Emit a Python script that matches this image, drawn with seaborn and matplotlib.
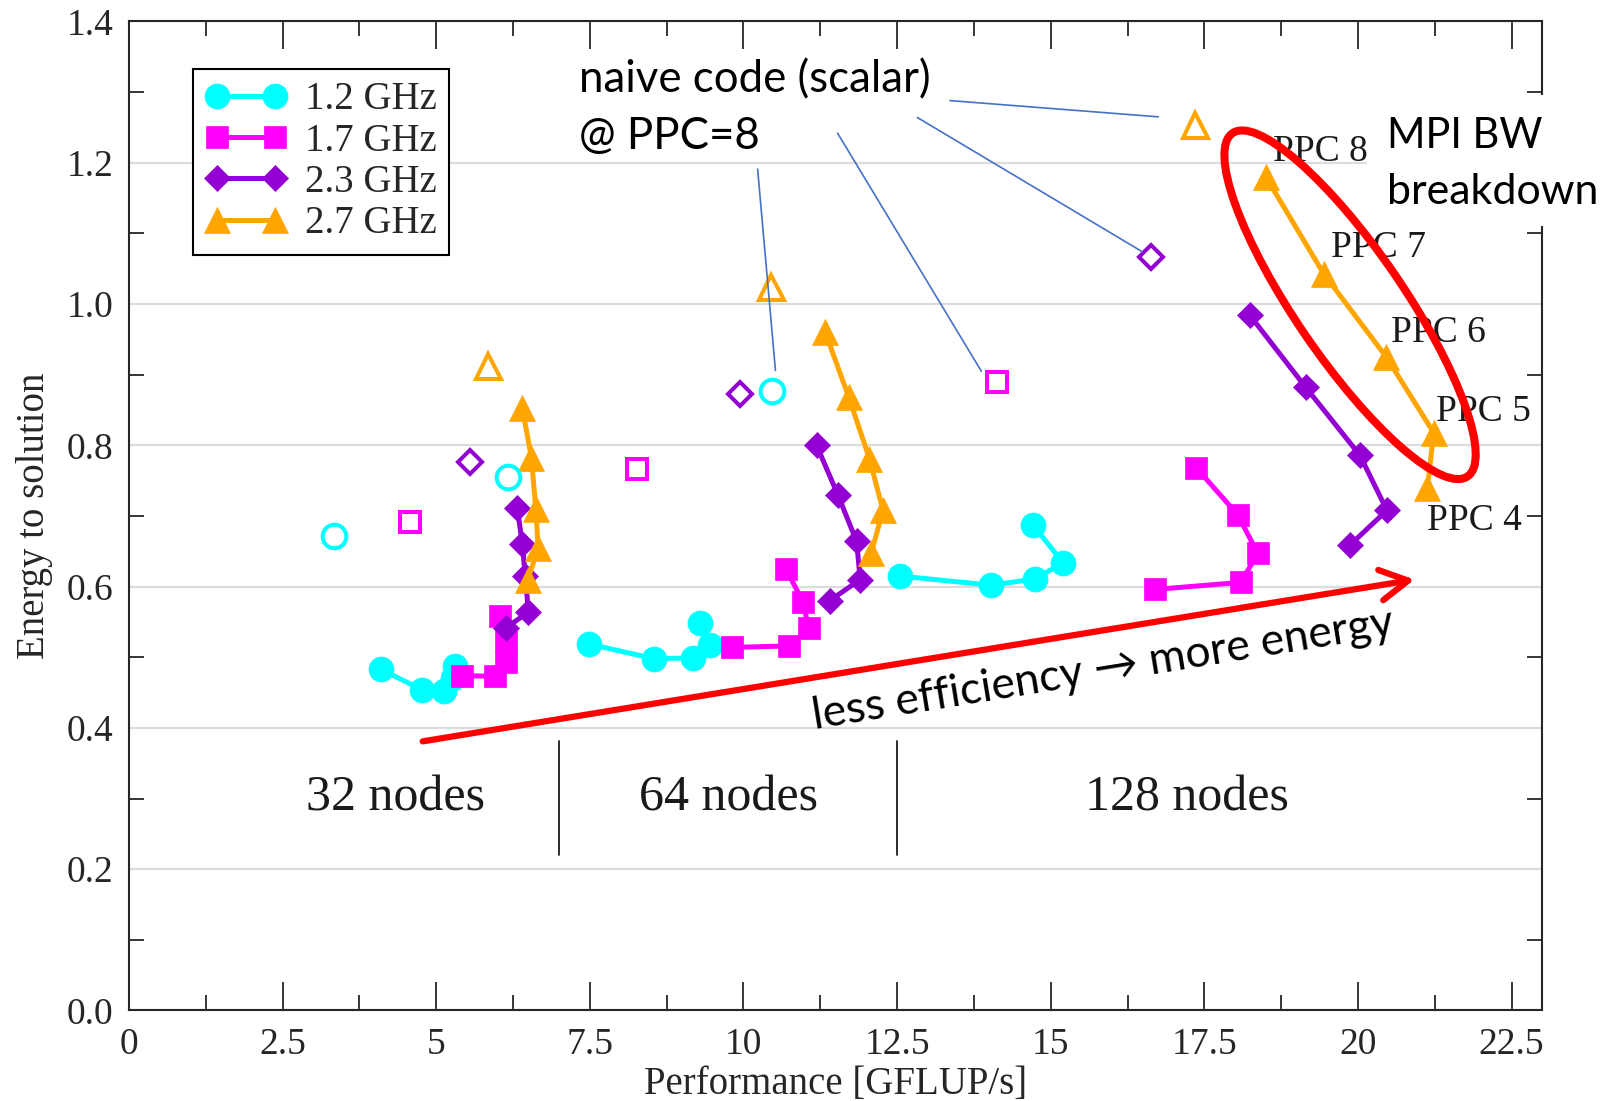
import matplotlib
matplotlib.use("Agg")
import matplotlib.pyplot as plt
import matplotlib.transforms as mtransforms
from matplotlib.patches import Ellipse, Rectangle
from matplotlib.ticker import MultipleLocator, FixedLocator, FormatStrFormatter
import pandas as pd
import seaborn as sns

# ---------------- data ----------------
freq_labels = ["1.2 GHz", "1.7 GHz", "2.3 GHz", "2.7 GHz"]
node_labels = ["32 nodes", "64 nodes", "128 nodes"]

# 1.2 GHz (cyan, circles)
perf_12_32 = [4.10, 4.77, 5.12, 5.28, 5.31]
en_12_32 = [0.483, 0.454, 0.452, 0.470, 0.487]
perf_12_64 = [7.48, 8.54, 9.18, 9.45, 9.30]
en_12_64 = [0.519, 0.498, 0.499, 0.517, 0.549]
perf_12_128 = [12.54, 14.03, 14.75, 15.20, 14.71]
en_12_128 = [0.615, 0.602, 0.611, 0.634, 0.687]

# 1.7 GHz (magenta, squares)
perf_17_32 = [5.42, 5.96, 6.13, 6.13, 6.04]
en_17_32 = [0.474, 0.473, 0.494, 0.523, 0.558]
perf_17_64 = [9.81, 10.74, 11.06, 10.97, 10.69]
en_17_64 = [0.514, 0.516, 0.541, 0.578, 0.625]
perf_17_128 = [16.70, 18.09, 18.37, 18.04, 17.37]
en_17_128 = [0.596, 0.606, 0.647, 0.702, 0.768]

# 2.3 GHz (purple, diamonds)
perf_23_32 = [6.14, 6.50, 6.45, 6.40, 6.32]
en_23_32 = [0.542, 0.564, 0.615, 0.660, 0.712]
perf_23_64 = [11.40, 11.90, 11.84, 11.54, 11.19]
en_23_64 = [0.580, 0.610, 0.664, 0.729, 0.800]
perf_23_128 = [18.24, 19.15, 20.03, 20.47, 19.87]
en_23_128 = [0.984, 0.882, 0.786, 0.708, 0.659]

# 2.7 GHz (orange, triangles)
perf_27_32 = [6.40, 6.55, 6.62, 6.66, 6.49]
en_27_32 = [0.853, 0.782, 0.710, 0.654, 0.610]
perf_27_64 = [11.33, 11.71, 12.05, 12.27, 12.08]
en_27_64 = [0.960, 0.869, 0.781, 0.708, 0.648]
perf_27_128 = [18.50, 19.44, 20.46, 21.23, 21.13]
en_27_128 = [1.180, 1.043, 0.925, 0.818, 0.740]

# naive code (scalar) @ PPC=8, open markers (32, 64, 128 nodes)
naive_perf_12 = [3.34, 6.16, 10.47]
naive_en_12 = [0.671, 0.755, 0.877]
naive_perf_17 = [4.58, 8.26, 14.12]
naive_en_17 = [0.692, 0.766, 0.889]
naive_perf_23 = [5.55, 9.95, 16.63]
naive_en_23 = [0.777, 0.872, 1.067]
naive_perf_27 = [5.85, 10.44, 17.34]
naive_en_27 = [0.913, 1.024, 1.253]

ppc_labels = ["PPC 8", "PPC 7", "PPC 6", "PPC 5", "PPC 4"]
ppc_label_x = [18.61, 19.56, 20.54, 21.27, 21.13]
ppc_label_y = [1.215, 1.080, 0.960, 0.848, 0.693]

xtick_values = [0, 2.5, 5, 7.5, 10, 12.5, 15, 17.5, 20, 22.5]
xtick_labels = ["0", "2.5", "5", "7.5", "10", "12.5", "15", "17.5", "20", "22.5"]

# annotation anchors
node_label_x = [4.34, 9.75, 17.22]
node_label_y = 0.300
separator_x = [7.0, 12.5]
separator_y = (0.22, 0.381)
leader_from = [(13.36, 1.288), (12.83, 1.264), (11.53, 1.242), (10.23, 1.191)]
leader_to = [(16.75, 1.265), (16.49, 1.074), (13.87, 0.905), (10.52, 0.906)]
arrow_start = (4.78, 0.381)
arrow_end = (20.92, 0.610)
ellipse_center = (19.87, 0.999)

# ---------------- style ----------------
sns.set_style("ticks")
plt.rcParams["font.family"] = ["Liberation Serif", "DejaVu Serif"]
SANS = ["Lato", "DejaVu Sans"]
INK = "#262626"

colors = ["#00FFFF", "#FF00FF", "#9400D3", "#FFA500"]
markers = ["o", "s", "D", "^"]
msizes = [18, 16.5, 13, 19]
open_sizes = [17, 15, 12, 18]

groups = [
    [(perf_12_32, en_12_32), (perf_12_64, en_12_64), (perf_12_128, en_12_128)],
    [(perf_17_32, en_17_32), (perf_17_64, en_17_64), (perf_17_128, en_17_128)],
    [(perf_23_32, en_23_32), (perf_23_64, en_23_64), (perf_23_128, en_23_128)],
    [(perf_27_32, en_27_32), (perf_27_64, en_27_64), (perf_27_128, en_27_128)],
]
naive = [
    (naive_perf_12, naive_en_12),
    (naive_perf_17, naive_en_17),
    (naive_perf_23, naive_en_23),
    (naive_perf_27, naive_en_27),
]

fig = plt.figure(figsize=(16.2, 11.01), dpi=100)
ax = fig.add_axes([0.0796, 0.0822, 0.8725, 0.8983])

handles = []
for label, color, marker, ms, grp in zip(freq_labels, colors, markers, msizes, groups):
    for i, (px, py) in enumerate(grp):
        df = pd.DataFrame({"perf": px, "energy": py})
        sns.lineplot(data=df, x="perf", y="energy", sort=False, estimator=None,
                     color=color, marker=marker, markersize=ms,
                     markeredgecolor=color, markeredgewidth=0.5,
                     linewidth=3.6, ax=ax, legend=False, zorder=3)
        if i == 0:
            handles.append(ax.lines[-1])

for color, marker, ms, (px, py) in zip(colors, markers, open_sizes, naive):
    df = pd.DataFrame({"perf": px, "energy": py})
    sns.lineplot(data=df, x="perf", y="energy", sort=False, estimator=None,
                 color=color, marker=marker, markersize=ms, linestyle="none",
                 markerfacecolor="none", markeredgecolor=color,
                 markeredgewidth=2.9, ax=ax, legend=False, zorder=3)

ax.set_xlim(0, 23)
ax.set_ylim(0, 1.4)

# ticks
ax.xaxis.set_major_locator(FixedLocator(xtick_values))
ax.set_xticklabels(xtick_labels)
ax.xaxis.set_minor_locator(MultipleLocator(1.25))
ax.yaxis.set_major_locator(MultipleLocator(0.2))
ax.yaxis.set_major_formatter(FormatStrFormatter("%.1f"))
ax.yaxis.set_minor_locator(MultipleLocator(0.1))
ax.tick_params(axis="x", which="major", direction="in", length=20, width=1.3,
               top=True, bottom=True, labelsize=27, pad=12, colors=INK)
ax.tick_params(axis="x", which="minor", direction="in", length=11, width=1.3,
               top=True, bottom=True, colors=INK)
ax.tick_params(axis="y", which="major", direction="in", length=0,
               left=True, right=True, labelsize=27, pad=11, colors=INK)
ax.tick_params(axis="y", which="minor", direction="in", length=11, width=1.3,
               left=True, right=True, colors=INK)
ax.grid(axis="y", which="major", color="#dcdcdc", linewidth=1.6)
ax.set_axisbelow(True)
for sp in ax.spines.values():
    sp.set_color(INK)
    sp.set_linewidth(1.5)

ax.set_xlabel("Performance [GFLUP/s]", fontsize=28, color=INK, labelpad=3)
ax.set_ylabel("Energy to solution", fontsize=28, color=INK, labelpad=10)

leg = ax.legend(handles, freq_labels, loc="upper left", bbox_to_anchor=(0.0453, 0.952),
                fontsize=28, frameon=True, fancybox=False, edgecolor="black",
                framealpha=1, borderpad=0.32, labelspacing=0.11, handlelength=2.1,
                handletextpad=0.45, numpoints=2, borderaxespad=0)
leg.get_frame().set_linewidth(1.5)
for t in leg.get_texts():
    t.set_color(INK)

# PPC labels
for txt, lx, ly in zip(ppc_labels, ppc_label_x, ppc_label_y):
    ax.text(lx, ly, txt, fontsize=27, color="#1a1a1a", va="center", ha="left", zorder=4)

# node groups
for txt, nx in zip(node_labels, node_label_x):
    ax.text(nx, node_label_y, txt, fontsize=36, color="#1a1a1a", ha="center", va="center")
for sx in separator_x:
    ax.plot([sx, sx], list(separator_y), color="#1a1a1a", lw=1.3)

# naive code annotation
ax.text(7.33, 1.299, "naive code (scalar)", family=SANS, fontsize=31.5, color="black",
        ha="left", va="baseline", zorder=5)
ax.text(7.33, 1.220, "@ PPC=8", family=SANS, fontsize=31.5, color="black",
        ha="left", va="baseline", zorder=5)
for (x0, y0), (x1, y1) in zip(leader_from, leader_to):
    ax.annotate("", xy=(x1, y1), xytext=(x0, y0),
                arrowprops=dict(arrowstyle="-", color="#4472C4", lw=1.2,
                                shrinkA=0, shrinkB=0), zorder=5)

# red arrow + text
ax.annotate("", xy=arrow_end, xytext=arrow_start,
            arrowprops=dict(arrowstyle="->,head_length=1.0,head_width=0.55",
                            color="red", lw=4.5, shrinkA=0, shrinkB=0,
                            mutation_scale=20), zorder=6)
ax.text(15.85, 0.482, "less efficiency \u2192 more energy", family=SANS, fontsize=32,
        color="black", rotation=9.2, rotation_mode="anchor", ha="center", va="center",
        zorder=6)

# red ellipse around the 2.7 GHz / 128-node series
ell_trans = fig.dpi_scale_trans + mtransforms.ScaledTranslation(
    ellipse_center[0], ellipse_center[1], ax.transData)
ax.add_patch(Ellipse((0, 0), 4.16, 1.08, angle=-55.6, transform=ell_trans,
                     fill=False, edgecolor="red", linewidth=5.8, zorder=6))
ax.set_xlim(0, 23)
ax.set_ylim(0, 1.4)

# "MPI BW breakdown" label on a white box (covers the right spine)
fig.add_artist(Rectangle((1367 / 1620, 1 - 226 / 1101), (1620 - 1367) / 1620,
                         (226 - 95) / 1101, transform=fig.transFigure,
                         facecolor="white", edgecolor="none", zorder=5))
fig.text(1387 / 1620, 1 - 148 / 1101, "MPI BW", family=SANS, fontsize=30,
         color="black", va="baseline", ha="left", zorder=6)
fig.text(1387 / 1620, 1 - 204 / 1101, "breakdown", family=SANS, fontsize=31,
         color="black", va="baseline", ha="left", zorder=6)

fig.savefig("out.png", dpi=100, facecolor="white")
